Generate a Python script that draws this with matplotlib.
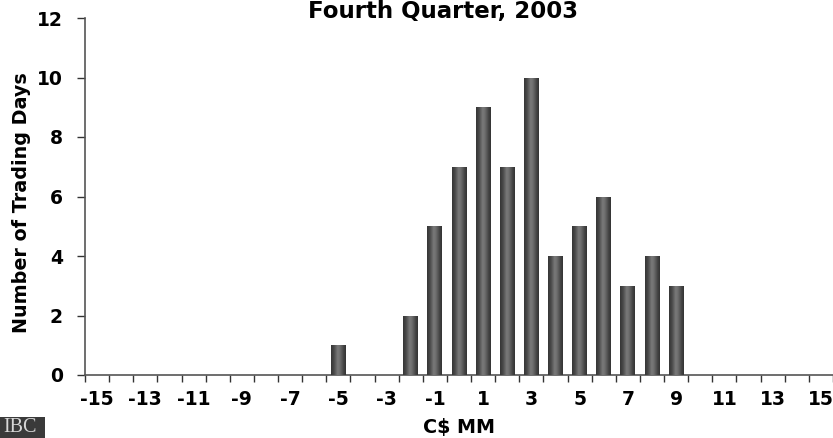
import numpy as np
import matplotlib
matplotlib.use("Agg")
import matplotlib.pyplot as plt
from matplotlib.colors import LinearSegmentedColormap
from matplotlib.patches import Rectangle

categories = list(range(-15, 16))
counts = [0, 0, 0, 0, 0, 0, 0, 0, 0, 0, 1, 0, 0, 2, 5, 7, 9, 7, 10, 4, 5, 6, 3, 4, 3,
          0, 0, 0, 0, 0, 0]
tick_labels = [str(c) for c in range(-15, 16, 2)]
y_ticks = [0, 2, 4, 6, 8, 10, 12]

title = "Fourth Quarter, 2003"
xlabel = "C$ MM"
ylabel = "Number of Trading Days"

W, H = 833, 438
fig = plt.figure(figsize=(W / 100, H / 100), dpi=100)
ax = fig.add_axes([85 / W, (H - 375) / H, (833 - 85) / W, (375 - 18) / H])

cmap = LinearSegmentedColormap.from_list(
    "cyl", [(0.0, "#353535"), (0.2, "#4a4a4a"), (0.45, "#7a7a7a"),
            (0.6, "#6e6e6e"), (0.85, "#444444"), (1.0, "#333333")])
grad = np.linspace(0, 1, 64).reshape(1, -1)

bw = 0.62
bars = ax.bar(categories, counts, width=bw, color="#555555", edgecolor="none", zorder=2)
for b, v in zip(bars, counts):
    if v <= 0:
        continue
    x0 = b.get_x()
    im = ax.imshow(grad, cmap=cmap, aspect="auto", extent=[x0, x0 + bw, 0, v],
                   zorder=3, interpolation="bilinear")
    im.set_clip_path(b)

ax.set_xlim(-15.5, 15.5)
ax.set_ylim(0, 12)

ax.set_xticks(np.arange(-15.5, 16.0, 1.0))
ax.set_xticklabels([])
ax.set_xticks(list(range(-15, 16, 2)), minor=True)
ax.set_xticklabels(tick_labels, minor=True)
ax.tick_params(axis="x", which="minor", length=0, pad=11)
ax.tick_params(axis="x", which="major", length=5, width=1, color="#333333", direction="out")

ax.set_yticks(y_ticks)
ax.set_yticklabels([str(v) for v in y_ticks])
ax.tick_params(axis="y", length=6, width=1, color="#333333", direction="out", pad=10)

for lab in ax.get_xticklabels(minor=True) + ax.get_yticklabels():
    lab.set_fontweight("bold")
    lab.set_fontsize(13.5)

for s in ["top", "right"]:
    ax.spines[s].set_visible(False)
for s in ["left", "bottom"]:
    ax.spines[s].set_color("#555555")
    ax.spines[s].set_linewidth(1.2)

fig.text(443 / W, 1.0, title, ha="center", va="top", fontsize=16.5, fontweight="bold")
fig.text(459 / W, 1 - 428 / H, xlabel, ha="center", va="center", fontsize=13.8, fontweight="bold")
fig.text(22 / W, 1 - 203 / H, ylabel, ha="center", va="center", rotation=90,
         fontsize=13.8, fontweight="bold")

fig.patches.append(Rectangle((0, 0), 45 / W, 21 / H, transform=fig.transFigure,
                             facecolor="#3a3a3a", edgecolor="none"))
fig.text(3 / W, 1 / H, "IBC", ha="left", va="bottom", color="#d8d8d8",
         fontsize=14.5, family="Liberation Serif")

fig.savefig("out.png", dpi=100)
